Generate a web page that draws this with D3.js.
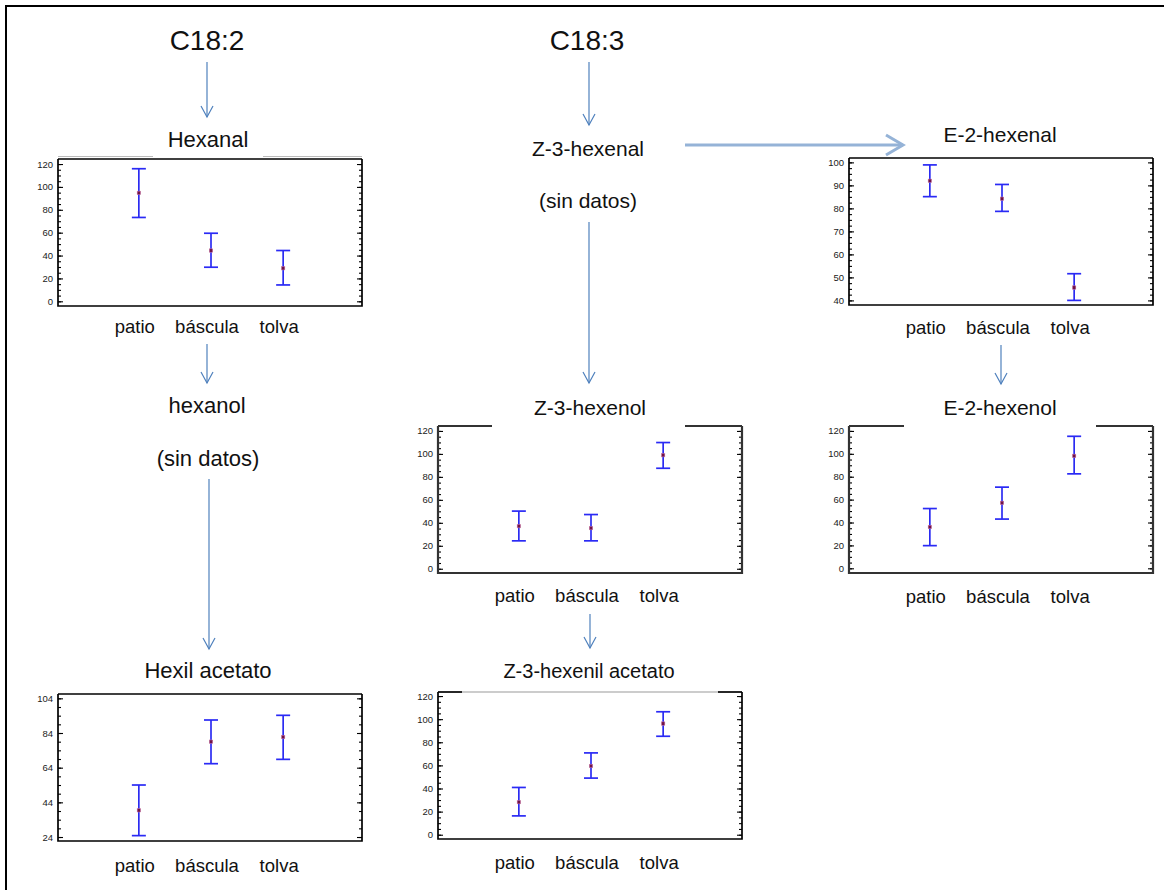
<!DOCTYPE html>
<html>
<head>
<meta charset="utf-8">
<script src="https://cdnjs.cloudflare.com/ajax/libs/d3/7.8.5/d3.min.js"></script>
<style>
  body { margin: 0; background: #fff; }
  svg { display: block; font-family: "Liberation Sans", Arial, sans-serif; }
</style>
</head>
<body>
<div id="chart"></div>
<script>
// categories on the x axis of every small plot
var categories = ["patio", "báscula", "tolva"];

// means and interval limits
var hexanalMean = [94.8, 44.4, 28.9];
var hexanalLow = [73.3, 29.8, 14.3];
var hexanalHigh = [115.9, 59.5, 44.4];

var e2hexenalMean = [92.0, 84.2, 45.6];
var e2hexenalLow = [85.1, 78.7, 40.0];
var e2hexenalHigh = [98.9, 90.4, 51.6];

var z3hexenolMean = [37.1, 35.4, 98.9];
var z3hexenolLow = [24.3, 24.3, 87.5];
var z3hexenolHigh = [50.2, 47.2, 109.9];

var e2hexenolMean = [36.1, 57.2, 98.2];
var e2hexenolLow = [19.8, 43.0, 82.5];
var e2hexenolHigh = [52.2, 70.9, 115.3];

var hexilMean = [39.4, 79.0, 81.7];
var hexilLow = [24.8, 66.3, 68.8];
var hexilHigh = [54.0, 91.5, 94.2];

var z3hexenilMean = [28.2, 59.5, 96.2];
var z3hexenilLow = [16.3, 49.0, 85.2];
var z3hexenilHigh = [40.9, 70.8, 106.4];

// tick labels
var ticks0to120 = [0, 20, 40, 60, 80, 100, 120];
var ticks40to100 = [40, 50, 60, 70, 80, 90, 100];
var ticks24to104 = [24, 44, 64, 84, 104];

var W = 1164, H = 890;
var pw = 304; // plot frame width
var ph = 147; // plot frame height

var svg = d3.select("#chart").append("svg")
    .attr("width", W)
    .attr("height", H);

// outer border (top and left only, the picture is cut on the other sides)
svg.append("path")
    .attr("d", "M6," + H + "V6H" + W)
    .attr("fill", "none")
    .attr("stroke", "#000")
    .attr("stroke-width", 2);

var panels = [
    { left: 58, top: 159, mean: hexanalMean, low: hexanalLow, high: hexanalHigh,
      domain: [-4.1, 124.4], ticks: ticks0to120, minor: 5, grayTop: [95, 205], labelDy: 27 },
    { left: 849, top: 158, mean: e2hexenalMean, low: e2hexenalLow, high: e2hexenalHigh,
      domain: [38, 101.9], ticks: ticks40to100, minor: 2.5, labelDy: 29 },
    { left: 438, top: 426, mean: z3hexenolMean, low: z3hexenolLow, high: z3hexenolHigh,
      domain: [-3.7, 124.3], ticks: ticks0to120, minor: 5, gap: [54, 247], dark: true, labelDy: 29 },
    { left: 849, top: 426, mean: e2hexenolMean, low: e2hexenolLow, high: e2hexenolHigh,
      domain: [-4.1, 124.3], ticks: ticks0to120, minor: 5, gap: [55, 247], dark: true, labelDy: 29.5 },
    { left: 58, top: 694, mean: hexilMean, low: hexilLow, high: hexilHigh,
      domain: [21.7, 106.5], ticks: ticks24to104, minor: 5, labelDy: 31 },
    { left: 438, top: 692, mean: z3hexenilMean, low: z3hexenilLow, high: z3hexenilHigh,
      domain: [-3.7, 123.5], ticks: ticks0to120, minor: 5, gap: [24, 280], grayGap: true, labelDy: 30 }
];

panels.forEach(function(p) {
    var g = svg.append("g")
        .attr("transform", "translate(" + p.left + "," + p.top + ")");

    var x = d3.scalePoint()
        .domain(categories)
        .range([1, pw + 1])
        .padding(1.107);

    var y = d3.scaleLinear()
        .domain(p.domain)
        .range([ph, 0]);

    // minor ticks, left and right, pointing inwards, aligned on the first major tick
    var minorVals = d3.range(p.ticks[0], p.domain[1], p.minor)
        .concat(d3.range(p.ticks[0] - p.minor, p.domain[0], -p.minor));
    g.append("g")
        .call(d3.axisLeft(y).tickValues(minorVals).tickSize(-3).tickFormat(""))
        .call(function(a) { a.select(".domain").remove(); });
    g.append("g")
        .attr("transform", "translate(" + pw + ",0)")
        .call(d3.axisRight(y).tickValues(minorVals).tickSize(-3).tickFormat(""))
        .call(function(a) { a.select(".domain").remove(); });

    // major ticks with labels
    var yAxis = g.append("g")
        .call(d3.axisLeft(y).tickValues(p.ticks).tickSize(-5).tickPadding(5))
        .call(function(a) { a.select(".domain").remove(); });
    yAxis.selectAll("text")
        .attr("font-size", "9.5px")
        .attr("fill", "#1a1a1a")
        .attr("font-family", "Liberation Sans, Arial, sans-serif");
    g.append("g")
        .attr("transform", "translate(" + pw + ",0)")
        .call(d3.axisRight(y).tickValues(p.ticks).tickSize(-5).tickFormat(""))
        .call(function(a) { a.select(".domain").remove(); });

    g.selectAll(".tick line").attr("stroke", "#000").attr("stroke-width", 1.1);

    // frame
    var fc = p.dark ? "#333" : "#000";
    var fw = p.dark ? 2.2 : 1.7;
    g.append("path")
        .attr("d", "M0,0V" + ph + "H" + pw + "V0")
        .attr("fill", "none")
        .attr("stroke", fc)
        .attr("stroke-width", fw);
    if (p.gap) {
        g.append("line").attr("x1", 0).attr("x2", p.gap[0]).attr("y1", 0).attr("y2", 0)
            .attr("stroke", fc).attr("stroke-width", fw);
        g.append("line").attr("x1", p.gap[1]).attr("x2", pw).attr("y1", 0).attr("y2", 0)
            .attr("stroke", fc).attr("stroke-width", fw);
        if (p.grayGap) {
            g.append("line").attr("x1", p.gap[0]).attr("x2", p.gap[1]).attr("y1", 0).attr("y2", 0)
                .attr("stroke", "#999").attr("stroke-width", 1);
        }
    } else {
        g.append("line").attr("x1", 0).attr("x2", pw).attr("y1", 0).attr("y2", 0)
            .attr("stroke", fc).attr("stroke-width", fw);
    }
    if (p.grayTop) {
        g.append("line").attr("x1", 0).attr("x2", p.grayTop[0]).attr("y1", -2.5).attr("y2", -2.5)
            .attr("stroke", "#bbb").attr("stroke-width", 1);
        g.append("line").attr("x1", p.grayTop[1]).attr("x2", pw).attr("y1", -2.5).attr("y2", -2.5)
            .attr("stroke", "#bbb").attr("stroke-width", 1);
    }

    // error bars
    var bars = g.selectAll(".bar")
        .data(categories)
        .enter().append("g")
        .attr("class", "bar");

    bars.append("line")
        .attr("x1", function(d) { return x(d); })
        .attr("x2", function(d) { return x(d); })
        .attr("y1", function(d, i) { return y(p.low[i]); })
        .attr("y2", function(d, i) { return y(p.high[i]); })
        .attr("stroke", "#1010f0")
        .attr("stroke-width", 1.5);
    bars.append("line")
        .attr("x1", function(d) { return x(d) - 7; })
        .attr("x2", function(d) { return x(d) + 7; })
        .attr("y1", function(d, i) { return y(p.high[i]); })
        .attr("y2", function(d, i) { return y(p.high[i]); })
        .attr("stroke", "#2a2af5")
        .attr("stroke-width", 1.7);
    bars.append("line")
        .attr("x1", function(d) { return x(d) - 7; })
        .attr("x2", function(d) { return x(d) + 7; })
        .attr("y1", function(d, i) { return y(p.low[i]); })
        .attr("y2", function(d, i) { return y(p.low[i]); })
        .attr("stroke", "#2a2af5")
        .attr("stroke-width", 1.7);
    bars.append("rect")
        .attr("x", function(d) { return x(d) - 1.7; })
        .attr("y", function(d, i) { return y(p.mean[i]) - 1.7; })
        .attr("width", 3.4)
        .attr("height", 3.4)
        .attr("fill", "#6e1448")
        .attr("stroke", "#d07aa8")
        .attr("stroke-width", 0.5);

    // category labels
    g.selectAll(".cat")
        .data(categories)
        .enter().append("text")
        .attr("class", "cat")
        .attr("x", function(d) { return x(d) - 4; })
        .attr("y", ph + p.labelDy)
        .attr("text-anchor", "middle")
        .attr("font-size", "18.5px")
        .attr("fill", "#111")
        .text(function(d) { return d; });
});

// arrows of the pathway
function arrow(x1, y1, x2, y2, color, width, len, half) {
    var ang = Math.atan2(y2 - y1, x2 - x1);
    var bx = x2 - len * Math.cos(ang), by = y2 - len * Math.sin(ang);
    var nx = -Math.sin(ang) * half, ny = Math.cos(ang) * half;
    svg.append("line")
        .attr("x1", x1).attr("y1", y1).attr("x2", x2).attr("y2", y2)
        .attr("stroke", color).attr("stroke-width", width);
    svg.append("path")
        .attr("d", "M" + (bx + nx) + "," + (by + ny) + "L" + x2 + "," + y2 + "L" + (bx - nx) + "," + (by - ny))
        .attr("fill", "none")
        .attr("stroke", color)
        .attr("stroke-width", width);
}

var thin = "#4f81bd";
arrow(207, 62, 207, 117, thin, 1.2, 11, 6);
arrow(589, 62, 589, 125, thin, 1.2, 11, 6);
arrow(685, 145, 903, 145, "#95b3d7", 3, 17, 10);
arrow(589, 222, 589, 383, thin, 1.2, 11, 6);
arrow(207, 344, 207, 383, thin, 1.2, 11, 6);
arrow(209, 479, 209, 649, thin, 1.2, 11, 6);
arrow(590, 614, 590, 648, thin, 1.2, 11, 6);
arrow(1001, 345, 1001, 384, thin, 1.2, 11, 6);

// labels of the diagram
var labels = [
    { t: "C18:2", x: 207, y: 50, s: 28 },
    { t: "C18:3", x: 587, y: 50, s: 28 },
    { t: "Hexanal", x: 208, y: 147, s: 22 },
    { t: "Z-3-hexenal", x: 588, y: 156, s: 21 },
    { t: "(sin datos)", x: 588, y: 208, s: 21 },
    { t: "E-2-hexenal", x: 1000, y: 141.5, s: 21 },
    { t: "hexanol", x: 207, y: 412.5, s: 22 },
    { t: "(sin datos)", x: 208, y: 466, s: 22 },
    { t: "Z-3-hexenol", x: 590, y: 415, s: 21 },
    { t: "E-2-hexenol", x: 1000, y: 415, s: 21 },
    { t: "Hexil acetato", x: 208, y: 678, s: 22 },
    { t: "Z-3-hexenil acetato", x: 589, y: 678, s: 20 }
];

svg.selectAll(".lbl")
    .data(labels)
    .enter().append("text")
    .attr("class", "lbl")
    .attr("x", function(d) { return d.x; })
    .attr("y", function(d) { return d.y; })
    .attr("text-anchor", "middle")
    .attr("font-size", function(d) { return d.s + "px"; })
    .attr("fill", "#111")
    .text(function(d) { return d.t; });
</script>
</body>
</html>
